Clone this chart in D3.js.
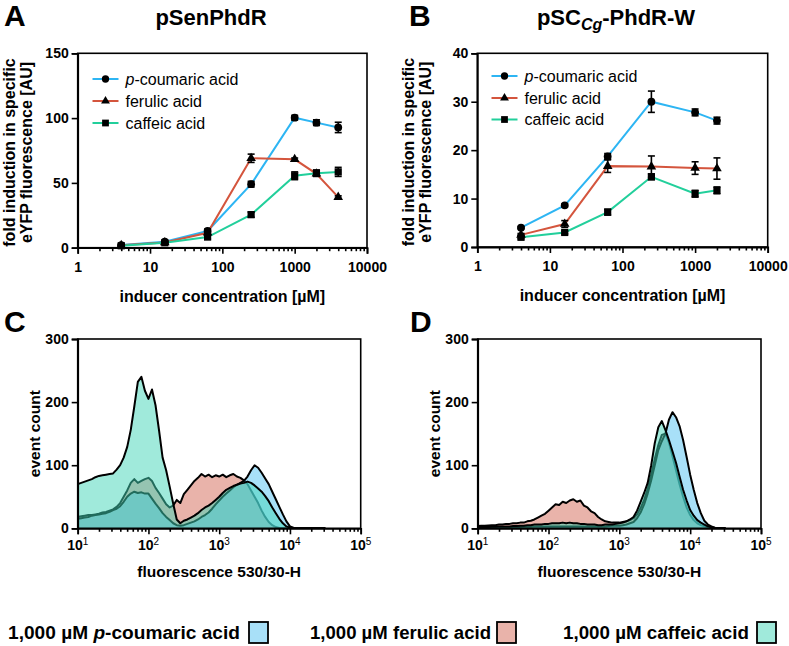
<!DOCTYPE html>
<html><head><meta charset="utf-8">
<script src="https://cdn.jsdelivr.net/npm/d3@7"></script>
<style>body{margin:0;background:#fff}svg{display:block}text{font-family:Arial,"Liberation Sans",Helvetica,sans-serif}</style>
</head><body>
<svg id="c" width="789" height="646"></svg>
<script>
// ---------- data: dose response ----------
const concA = [4, 16, 62.5, 250, 1000, 2000, 4000];
const coumA = [2.0, 4.6, 12.9, 49, 100.3, 96.5, 92.8];
const coumAErr = [0.5, 0.8, 1.5, 2.2, 1.8, 2.2, 4.0];
const ferA = [1.8, 4.0, 11.5, 69, 68.2, 57, 39];
const ferAErr = [0.3, 0.5, 0.8, 3.2, 1.0, 1.0, 1.0];
const cafA = [1.5, 3.8, 8.2, 25.5, 55.5, 57.5, 58.5];
const cafAErr = [0.5, 0.8, 1.5, 2.0, 3.0, 2.5, 3.5];

const concB = [4, 16, 62.5, 250, 1000, 2000];
const coumB = [4.0, 8.6, 18.7, 30.0, 27.8, 26.1];
const coumBErr = [0.2, 0.3, 0.6, 2.2, 0.7, 0.7];
const ferB = [2.5, 4.75, 16.7, 16.6, 16.3, 16.2];
const ferBErr = [0.3, 0.7, 1.3, 2.2, 1.3, 2.2];
const cafB = [2.0, 3.0, 7.2, 14.5, 11.0, 11.7];
const cafBErr = [0.3, 0.3, 0.6, 0.6, 0.7, 0.7];

const doseTicks = [1, 10, 100, 1000, 10000];
const yTicksA = [0, 50, 100, 150];
const yTicksB = [0, 10, 20, 30, 40];
const seriesNames = ["p-coumaric acid", "ferulic acid", "caffeic acid"];

// ---------- data: flow cytometry histograms (log10 of fluorescence bins) ----------
const binExp = [1.00,1.05,1.10,1.15,1.20,1.25,1.30,1.35,1.40,1.45,1.50,1.55,1.60,1.65,1.70,1.75,1.80,1.85,1.90,1.95,2.00,2.05,2.10,2.15,2.20,2.25,2.30,2.35,2.40,2.45,2.50,2.55,2.60,2.65,2.70,2.75,2.80,2.85,2.90,2.95,3.00,3.05,3.10,3.15,3.20,3.25,3.30,3.35,3.40,3.45,3.50,3.55,3.60,3.65,3.70,3.75,3.80,3.85,3.90,3.95,4.00,4.05,4.10,4.15,4.20,4.25,4.30,4.35,4.40,4.45,4.50];
const histC_coum = [15,16,17,18,20,21,22,23,24,26, 29,31,35,42,50,55,58,56,57,55, 55,47,39,32,24,18,13,8,5,4, 5,7,9,11,14,18,21,25,31,38, 44,50,55,60,65,69,72,75,82,92, 100,96,88,79,70,58,46,34,22,11, 3,1,0,0,0,0,0,0,0,0, 0];
const histC_fer = [18,19,20,21,21,22,23,25,26,28, 30,34,40,50,60,72,78,72,75,78, 80,75,64,56,47,38,33,36,45,40, 54,61,68,75,80,86,82,85,81,84, 82,85,81,84,86,82,80,76,70,60, 50,40,28,18,10,5,2,0.5,0,0, 0,0,0,0,0,0,0,0,0,0, 0];
const histC_caf = [70,72,74,76,78,81,83,84,85,86, 87,93,100,112,129,156,193,232,240,218, 205,220,195,155,112,92,66,39,14,8, 12,14,17,20,24,29,33,36,40,45, 50,56,61,64,67,69,71,72,74,72, 68,63,58,51,43,33,24,15,8,3, 1,0,0,0,0,0,0,0,0,0, 0];
const histD_coum = [2,2,2,2,2,2,2,2,2,2, 2,2,2,2.5,2.5,2.5,3,3,3,3, 3,3,3,3,3,3,3,3,3,3, 3,3,3,3,3,3,3,3.5,4,4, 4,5,6,8,10,16,25,38,55,76, 100,124,138,150,172,184,176,162,140,113, 85,61,40,24,12,6,3,1,0.5,0, 0];
const histD_fer = [3.7,4,4,4.5,5,5,6,6,7,7, 8,8,9,9,11,12,14,17,20,23, 28,33,38,37,42,40,44,46,42,44, 36,33,27,24,18,14,11,10,9,9, 9,10,11,13,16,22,32,45,62,85, 110,132,148,150,136,114,92,70,50,33, 21,13,8,5,3,1.5,0.5,0,0,0, 0];
const histD_caf = [2,2,2,2,2.5,2.5,3,3,3,3, 3.5,3.5,4,4,5,5,6,6,6,7, 7,8,8,8,9,8,9,8,8,7, 7,6,6,6,5,5,6,6,6,7, 8,9,11,14,18,28,42,56,72,100, 135,160,170,156,140,122,104,82,61,44, 29,20,13,9,6,3,1.5,0.5,0,0, 0];
const flowTickExp = [1, 2, 3, 4, 5];
const yTicksFlow = [0, 100, 200, 300];
const legendLabels = ["p-coumaric acid", "ferulic acid", "caffeic acid"];

// ---------- styles ----------
const lineColors = ["#2db5f3", "#d4553d", "#22cf9b"];
const histFill = ["#51c1f1", "#d36755", "#41d5b7"];
const legendFill = ["#a8e0f8", "#e9b3aa", "#a0eadb"];
const svg = d3.select("#c");

function minorTicks(e0, e1) {
  const v = [];
  for (let e = e0; e < e1; e++) for (let m = 2; m <= 9; m++) v.push(m * Math.pow(10, e));
  return v;
}
function styleAxis(sel, fs) {
  sel.selectAll("path.domain").attr("stroke", "#000").attr("stroke-width", 1.8);
  sel.selectAll(".tick line").attr("stroke", "#000").attr("stroke-width", 1.6);
  sel.selectAll(".tick text").attr("font-size", fs).attr("font-weight", "bold").attr("fill", "#000")
    .attr("font-family", "Arial, 'Liberation Sans', sans-serif");
}

// ---------- dose response panel ----------
function dosePanel(o) {
  const g = svg.append("g");
  const x = d3.scaleLog().domain([1, 10000]).range([o.x0, o.x1]);
  const y = d3.scaleLinear().domain([0, o.ymax]).range([o.y0, o.y1]);
  g.append("rect").attr("x", o.x0).attr("y", o.y1).attr("width", o.x1 - o.x0).attr("height", o.y0 - o.y1)
    .attr("fill", "none").attr("stroke", "#000").attr("stroke-width", 1.6);
  const xa = g.append("g").attr("transform", `translate(0,${o.y0})`)
    .call(d3.axisBottom(x).tickValues(doseTicks).tickFormat(d => String(d)).tickSize(6).tickPadding(8));
  styleAxis(xa, 14);
  const xm = g.append("g").attr("transform", `translate(0,${o.y0})`)
    .call(d3.axisBottom(x).tickValues(minorTicks(0, 4)).tickFormat("").tickSize(3.5));
  xm.select(".domain").remove(); styleAxis(xm, 14);
  const ya = g.append("g").attr("transform", `translate(${o.x0},0)`)
    .call(d3.axisLeft(y).tickValues(o.yTicks).tickSize(6).tickPadding(3));
  styleAxis(ya, 14);

  const sets = [[o.coum, o.coumErr, d3.symbolCircle, 48], [o.fer, o.ferErr, d3.symbolTriangle, 40], [o.caf, o.cafErr, d3.symbolSquare, 52]];
  const line = d3.line().x(d => x(d.c)).y(d => y(d.v));
  sets.forEach((s, i) => {
    const pts = o.conc.map((c, k) => ({c: c, v: s[0][k], e: s[1][k]}));
    g.append("path").datum(pts).attr("d", line).attr("fill", "none").attr("stroke", lineColors[i]).attr("stroke-width", 2);
  });
  sets.forEach((s, i) => {
    const pts = o.conc.map((c, k) => ({c: c, v: s[0][k], e: s[1][k]}));
    const eb = g.append("g");
    pts.forEach(p => {
      const xx = x(p.c), ya1 = y(p.v + p.e), ya0 = y(p.v - p.e);
      eb.append("line").attr("x1", xx).attr("x2", xx).attr("y1", ya1).attr("y2", ya0).attr("stroke", "#000").attr("stroke-width", 1.6);
      [ya1, ya0].forEach(yy => eb.append("line").attr("x1", xx - 3.5).attr("x2", xx + 3.5).attr("y1", yy).attr("y2", yy).attr("stroke", "#000").attr("stroke-width", 1.6));
    });
    g.selectAll(null).data(pts).enter().append("path")
      .attr("d", d3.symbol().type(s[2]).size(s[3]))
      .attr("transform", d => `translate(${x(d.c)},${y(d.v)})`).attr("fill", "#000");
  });
  // legend
  const syms = [[d3.symbolCircle, 42], [d3.symbolTriangle, 34], [d3.symbolSquare, 46]];
  seriesNames.forEach((n, i) => {
    const ry = o.legY[i];
    g.append("line").attr("x1", o.legX).attr("x2", o.legX + 26).attr("y1", ry).attr("y2", ry).attr("stroke", lineColors[i]).attr("stroke-width", 2);
    g.append("path").attr("d", d3.symbol().type(syms[i][0]).size(syms[i][1])).attr("transform", `translate(${o.legX + 13},${ry})`);
    const t = g.append("text").attr("x", o.legX + 33).attr("y", ry + 5.5).attr("font-size", 16).attr("fill", "#000");
    if (i === 0) { t.append("tspan").attr("font-style", "italic").text("p"); t.append("tspan").text("-coumaric acid"); }
    else t.text(n);
  });
  // axis titles
  g.append("text").attr("x", (o.x0 + o.x1) / 2).attr("y", o.y0 + 54).attr("text-anchor", "middle")
    .attr("font-size", 16).attr("font-weight", "bold").text("inducer concentration [µM]");
  const cy = (o.y0 + o.y1) / 2 + 2;
  g.append("text").attr("transform", `translate(${o.labX},${cy}) rotate(-90)`).attr("text-anchor", "middle")
    .attr("font-size", 16).attr("font-weight", "bold").text("fold induction in specific");
  g.append("text").attr("transform", `translate(${o.labX + 16.5},${cy}) rotate(-90)`).attr("text-anchor", "middle")
    .attr("font-size", 16).attr("font-weight", "bold").text("eYFP fluorescence [AU]");
}

// ---------- histogram panel ----------
function histPanel(o) {
  const g = svg.append("g");
  const x = d3.scaleLog().domain([10, 100000]).range([o.x0, o.x1]);
  const y = d3.scaleLinear().domain([0, 300]).range([o.y0, o.y1]);
  const cid = "clip" + o.id;
  svg.append("clipPath").attr("id", cid).append("rect").attr("x", o.x0).attr("y", o.y1).attr("width", o.x1 - o.x0).attr("height", o.y0 - o.y1);
  const plot = g.append("g").attr("clip-path", `url(#${cid})`);
  const area = d3.area().x(d => x(Math.pow(10, d.e))).y0(y(0)).y1(d => y(d.v));
  const ln = d3.line().x(d => x(Math.pow(10, d.e))).y(d => y(d.v));
  // draw order: ferulic, p-coumaric, caffeic (top)
  [[o.fer, 1], [o.coum, 0], [o.caf, 2]].forEach(([vals, ci]) => {
    const pts = binExp.map((e, k) => ({e: e, v: vals[k]}));
    plot.append("path").datum(pts).attr("d", area).attr("fill", histFill[ci]).attr("fill-opacity", 0.5);
    plot.append("path").datum(pts).attr("d", ln).attr("fill", "none").attr("stroke", "#000").attr("stroke-width", 2).attr("stroke-linejoin", "round");
  });
  g.append("rect").attr("x", o.x0).attr("y", o.y1).attr("width", o.x1 - o.x0).attr("height", o.y0 - o.y1)
    .attr("fill", "none").attr("stroke", "#000").attr("stroke-width", 1.6);
  const xa = g.append("g").attr("transform", `translate(0,${o.y0})`)
    .call(d3.axisBottom(x).tickValues(flowTickExp.map(e => Math.pow(10, e))).tickFormat("").tickSize(6));
  styleAxis(xa, 13);
  const xm = g.append("g").attr("transform", `translate(0,${o.y0})`)
    .call(d3.axisBottom(x).tickValues(minorTicks(1, 5)).tickFormat("").tickSize(3.5));
  xm.select(".domain").remove(); styleAxis(xm, 13);
  flowTickExp.forEach(e => {
    const t = g.append("text").attr("x", x(Math.pow(10, e))).attr("y", o.y0 + 22).attr("text-anchor", "middle")
      .attr("font-size", 14).attr("font-weight", "bold");
    t.append("tspan").text("10");
    t.append("tspan").attr("dy", -5).attr("font-size", 10).attr("font-weight", "normal").text(String(e));
  });
  const ya = g.append("g").attr("transform", `translate(${o.x0},0)`)
    .call(d3.axisLeft(y).tickValues(yTicksFlow).tickSize(6).tickPadding(3));
  styleAxis(ya, 14);
  g.append("text").attr("x", (o.x0 + o.x1) / 2).attr("y", o.y0 + 49).attr("text-anchor", "middle")
    .attr("font-size", 15.5).attr("font-weight", "bold").text("fluorescence 530/30-H");
  g.append("text").attr("transform", `translate(${o.labX},${(o.y0 + o.y1) / 2}) rotate(-90)`).attr("text-anchor", "middle")
    .attr("font-size", 15.5).attr("font-weight", "bold").text("event count");
}

dosePanel({x0: 77.7, x1: 367, y0: 247.7, y1: 53.3, ymax: 150, yTicks: yTicksA, conc: concA,
  coum: coumA, coumErr: coumAErr, fer: ferA, ferErr: ferAErr, caf: cafA, cafErr: cafAErr,
  legX: 92.5, legY: [79, 101, 123], labX: 15});
dosePanel({x0: 477.3, x1: 767.7, y0: 247, y1: 53.3, ymax: 40, yTicks: yTicksB, conc: concB,
  coum: coumB, coumErr: coumBErr, fer: ferB, ferErr: ferBErr, caf: cafB, cafErr: cafBErr,
  legX: 491.5, legY: [76, 98, 119.5], labX: 414});
histPanel({id: "C", x0: 77.7, x1: 360.7, y0: 528.3, y1: 339, coum: histC_coum, fer: histC_fer, caf: histC_caf, labX: 40});
histPanel({id: "D", x0: 477.7, x1: 761, y0: 528.3, y1: 339, coum: histD_coum, fer: histD_fer, caf: histD_caf, labX: 440});

// ---------- panel letters and titles ----------
[["A", 4, 26], ["B", 409, 26], ["C", 4, 332], ["D", 410, 332]].forEach(([l, xx, yy]) =>
  svg.append("text").attr("x", xx).attr("y", yy).attr("font-size", 30).attr("font-weight", "bold").text(l));
svg.append("text").attr("x", 211).attr("y", 25).attr("text-anchor", "middle").attr("font-size", 22).attr("font-weight", "bold").text("pSenPhdR");
const tB = svg.append("text").attr("x", 616).attr("y", 25).attr("text-anchor", "middle").attr("font-size", 22).attr("font-weight", "bold");
tB.append("tspan").text("pSC");
tB.append("tspan").attr("font-style", "italic").attr("font-size", 16).attr("dy", 5).text("Cg");
tB.append("tspan").attr("dy", -5).text("-PhdR-W");

// ---------- bottom legend ----------
const legItems = [{x: 8, w: 232, box: 249}, {x: 310, w: 181, box: 497}, {x: 563, w: 186, box: 757}];
legendLabels.forEach((n, i) => {
  const it = legItems[i];
  const t = svg.append("text").attr("x", it.x).attr("y", 639).attr("font-size", 18).attr("font-weight", "bold")
    .attr("textLength", it.w).attr("lengthAdjust", "spacingAndGlyphs");
  t.append("tspan").text("1,000 µM ");
  if (i === 0) { t.append("tspan").attr("font-style", "italic").text("p"); t.append("tspan").text("-coumaric acid"); }
  else t.append("tspan").text(n);
  svg.append("rect").attr("x", it.box).attr("y", 622).attr("width", 19).attr("height", 21)
    .attr("fill", legendFill[i]).attr("stroke", "#000").attr("stroke-width", 1.8);
});
</script>
</body></html>
